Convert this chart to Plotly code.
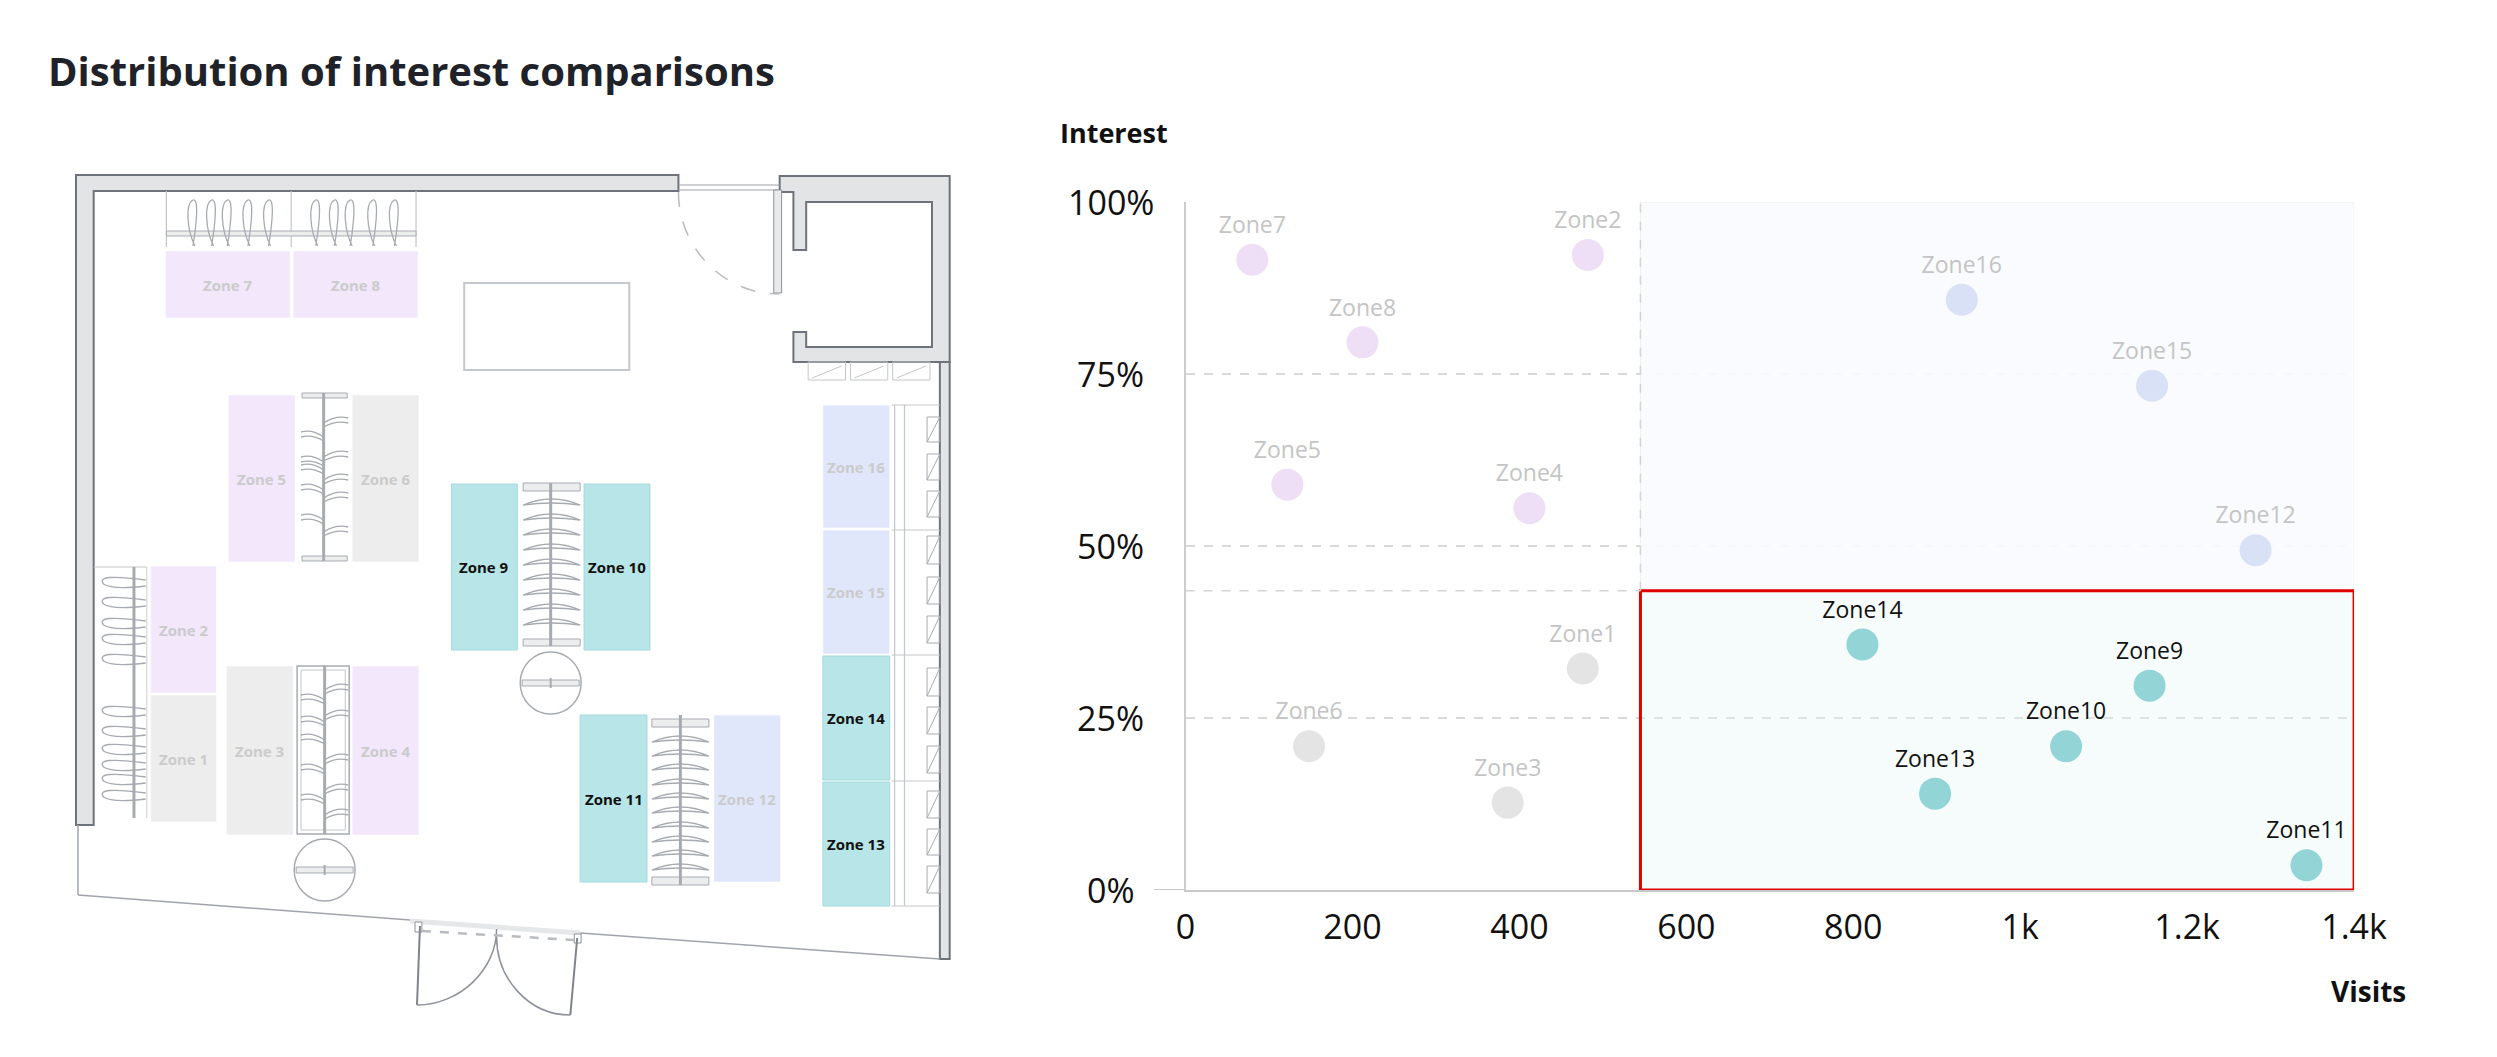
import plotly.graph_objects as go

W, H = 2497, 1057
PAD = 8  # the page body adds an 8px margin, so the layout is pulled back by that much

# ---- chart data ----
ZONES = ["Zone1", "Zone2", "Zone3", "Zone4", "Zone5", "Zone6", "Zone7", "Zone8",
         "Zone9", "Zone10", "Zone11", "Zone12", "Zone13", "Zone14", "Zone15", "Zone16"]
VISITS = [476, 482, 386, 412, 122, 148, 80, 212,
          1155, 1055, 1343, 1282, 898, 811, 1158, 930]
INTEREST = [0.322, 0.923, 0.127, 0.555, 0.589, 0.209, 0.916, 0.796,
            0.297, 0.209, 0.036, 0.494, 0.140, 0.357, 0.733, 0.858]

VISIT_SPLIT = 545
INTEREST_SPLIT = 0.435

X_TICKS = [0, 200, 400, 600, 800, 1000, 1200, 1400]
X_TICK_LABELS = ["0", "200", "400", "600", "800", "1k", "1.2k", "1.4k"]
Y_TICKS = [0, 0.25, 0.5, 0.75, 1.0]
Y_TICK_LABELS = ["0%", "25%", "50%", "75%", "100%"]

FONT = "Open Sans"

# quadrant -> colours (marker, label, floor fill)
MARKER_COL = {"niche": "#efdff6", "quiet": "#e4e4e4", "busy": "#d9e1f7", "focus": "#93d5d7"}
LABEL_COL = {"niche": "#c4c4c4", "quiet": "#c4c4c4", "busy": "#c4c4c4", "focus": "#111111"}
FLOOR_COL = {"niche": "#f2e7fb", "quiet": "#ededed", "busy": "#e1e7fb", "focus": "#b8e5e7"}


def quadrant(v, i):
    if v >= VISIT_SPLIT:
        return "focus" if i < INTEREST_SPLIT else "busy"
    return "niche" if i >= INTEREST_SPLIT else "quiet"


quad = {z: quadrant(v, i) for z, v, i in zip(ZONES, VISITS, INTEREST)}


def px(x):
    return (x - PAD) / W


def py(y):
    return 1 - (y - PAD) / H


# ---- floor plan illustration (pixel coordinates of the left panel) ----
WALL_FILL = "#e3e4e6"
WALL_LINE = "#6d727b"
FURN = "#a7abb1"

ZONE_BOXES = {
    "Zone7": (158, 251, 285, 318), "Zone8": (288, 251, 415, 318),
    "Zone5": (222, 395, 290, 562), "Zone6": (348, 395, 416, 562),
    "Zone2": (143, 566, 210, 693), "Zone1": (143, 695, 210, 822),
    "Zone3": (220, 666, 288, 835), "Zone4": (348, 666, 416, 835),
    "Zone9": (449, 484, 516, 650), "Zone10": (584, 484, 651, 650),
    "Zone11": (580, 715, 648, 882), "Zone12": (716, 715, 784, 882),
    "Zone16": (827, 405, 895, 528), "Zone15": (827, 530, 895, 654),
    "Zone14": (827, 656, 895, 780), "Zone13": (827, 782, 895, 906),
}

shapes = []
annotations = []


def seg(x0, y0, x1, y1, color=FURN, width=1.5, dash=None):
    line = dict(color=color, width=width)
    if dash:
        line["dash"] = dash
    shapes.append(dict(type="line", xref="x2", yref="y2", x0=x0, y0=y0, x1=x1, y1=y1, line=line))


def box(x0, y0, x1, y1, fill="rgba(0,0,0,0)", color="rgba(0,0,0,0)", width=1):
    shapes.append(dict(type="rect", xref="x2", yref="y2", x0=x0, y0=y0, x1=x1, y1=y1,
                       fillcolor=fill, line=dict(color=color, width=width)))


def path(d, color=FURN, width=1.5, fill="rgba(0,0,0,0)", dash=None):
    line = dict(color=color, width=width)
    if dash:
        line["dash"] = dash
    shapes.append(dict(type="path", xref="x2", yref="y2", path=d, fillcolor=fill, line=line))


def circle(cx, cy, r, color=FURN):
    shapes.append(dict(type="circle", xref="x2", yref="y2", x0=cx - r, y0=cy - r,
                       x1=cx + r, y1=cy + r, line=dict(color=color, width=1.5)))
    box(cx - r + 2, cy - 3, cx + r - 2, cy + 3, "#eceded", FURN, 1)
    seg(cx, cy - 5, cx, cy + 5, FURN, 2)


def loop(xa, xb, y, depth=10):
    xm = (xa + xb) / 2
    path(f"M {xa},{y} Q {xm},{y - depth} {xb},{y} Q {xm},{y - depth / 3} {xa},{y} Z", FURN, 1.3)


def side_hanger(x_from, x_to, y):
    xm = (x_from + x_to) / 2
    path(f"M {x_from},{y} Q {xm},{y - 8} {x_to},{y - 5} M {x_from},{y + 4} Q {xm},{y - 3} {x_to},{y}",
         FURN, 1.3)


# walls
path("M 67,175 L 680,175 L 680,191 L 85,191 L 85,825 L 67,825 Z", WALL_LINE, 2, WALL_FILL)
path("M 783,176 L 956,176 L 956,362 L 797,362 L 797,332 L 810,332 L 810,347 L 938,347 "
     "L 938,202 L 810,202 L 810,250 L 797,250 L 797,192 L 783,192 Z", WALL_LINE, 2, WALL_FILL)
path("M 946,362 L 956,362 L 956,959 L 946,959 Z", WALL_LINE, 2, WALL_FILL)
seg(680, 185, 783, 185, "#9ea2a8", 1.2)
seg(680, 190, 783, 190, "#9ea2a8", 1.2)
box(777, 190, 785, 293, "#e9eaec", "#8d9199", 1)
path("M 680,192 C 680,248 726,294 782,294", "#b8bbc0", 1.5, dash="longdash")
seg(69, 825, 69, 895, "#a0a4aa", 1.5)
seg(69, 895, 407, 920, "#a0a4aa", 1.5)
seg(580, 933, 946, 959, "#a0a4aa", 1.5)

# entrance doors
seg(407, 921, 580, 933, "#e6e7e9", 5)
box(412, 922, 419, 932, "white", "#8d9199", 1)
box(574, 934, 581, 943, "white", "#8d9199", 1)
seg(417, 926, 414, 1005, "#7f848c", 2)
seg(577, 938, 570, 1015, "#7f848c", 2)
path("M 414,1005 C 457,1005 495,970 495,929", "#8d9199", 1.5)
path("M 570,1015 C 527,1015 495,978 495,937", "#8d9199", 1.5)
seg(419, 931, 574, 940, "#b8bbc0", 2.5, "dash")

# table
box(462, 283, 630, 370, "white", "#c4c7cc", 2)

# wall racks at the top
for xv in [159, 286, 413]:
    seg(xv, 191, xv, 247, "#c3c6ca", 1.2)
box(159, 231, 413, 236, "#eceded", FURN, 1)
for xh in [186, 205, 221, 242, 263, 311, 330, 346, 369, 391]:
    path(f"M {xh + 2},246 C {xh - 6},230 {xh - 8},204 {xh},200 C {xh + 6},198 {xh + 4},222 {xh},246",
         FURN, 1.3)

# left wall rack
seg(85, 567, 139, 567, "#c3c6ca", 1.2)
seg(139, 567, 139, 818, "#d5d7da", 1.2)
seg(126, 567, 126, 818, FURN, 3)
for yh in [583, 603, 624, 640, 660, 712, 732, 750, 766, 780, 796]:
    path(f"M 138,{yh - 3} Q 86,{yh - 10} 95,{yh + 1} Q 104,{yh + 7} 138,{yh + 3}", FURN, 1.3)

# rack between zone 5 / 6
box(297, 393, 343, 398, "#eceded", FURN, 1)
box(297, 556, 343, 561, "#eceded", FURN, 1)
seg(319, 393, 319, 561, FURN, 3)
for yh in [423, 457, 480, 498, 532]:
    side_hanger(319, 344, yh)
for yh in [437, 462, 470, 490, 520]:
    side_hanger(319, 296, yh)

# rack between zone 3 / 4
box(292, 666, 345, 834, "rgba(0,0,0,0)", FURN, 1.5)
box(296, 670, 341, 830, "rgba(0,0,0,0)", "#c3c6ca", 1)
seg(320, 666, 320, 834, FURN, 3)
for yh in [690, 716, 760, 790, 815]:
    side_hanger(320, 344, yh)
for yh in [700, 722, 740, 770, 800]:
    side_hanger(320, 296, yh)
circle(320, 870, 31)

# rack between zone 9 / 10
box(522, 483, 580, 491, "#eceded", FURN, 1)
box(522, 639, 580, 646, "#eceded", FURN, 1)
seg(550, 483, 550, 646, FURN, 3)
for yh in [505, 520, 535, 550, 565, 580, 595, 610, 625]:
    loop(522, 580, yh, 12)
circle(550, 683, 31)

# rack between zone 11 / 12
box(653, 719, 711, 727, "#eceded", FURN, 1)
box(653, 877, 711, 885, "#eceded", FURN, 1)
seg(682, 715, 682, 885, FURN, 3)
for yh in [742, 756, 770, 785, 799, 813, 828, 842, 856, 870]:
    loop(653, 711, yh, 12)

# shelving along the right wall
seg(900, 405, 900, 906, "#c3c6ca", 1.2)
seg(910, 405, 910, 906, "#c3c6ca", 1.2)
for yl in [405, 530, 655, 781, 906]:
    seg(897, yl, 946, yl, "#c3c6ca", 1.2)
for y0, y1 in [(417, 442), (454, 480), (491, 517), (536, 564), (577, 604), (616, 643),
               (668, 696), (707, 734), (746, 773), (791, 818), (829, 855), (866, 893)]:
    box(933, y0, 946, y1, "rgba(0,0,0,0)", FURN, 1)
    seg(933, y1, 946, y0, FURN, 1)
for x0, x1 in [(812, 850), (855, 893), (898, 936)]:
    box(x0, 362, x1, 380, "rgba(0,0,0,0)", "#c3c6ca", 1)
    seg(x0 + 4, 378, x1 - 4, 366, "#c3c6ca", 1)

# zones on the floor plan
for z, (x0, y0, x1, y1) in ZONE_BOXES.items():
    q = quad[z]
    edge = "#a3dadb" if q == "focus" else "rgba(255,255,255,0.6)"
    box(x0, y0, x1, y1, FLOOR_COL[q], edge, 1)
    annotations.append(dict(
        xref="x2", yref="y2", x=(x0 + x1) / 2, y=(y0 + y1) / 2, showarrow=False,
        text="Zone " + z[4:],
        font=dict(family=FONT, size=15, weight=700,
                  color="#111111" if q == "focus" else "#cbcbcb")))

# ---- scatter chart decorations ----
X_DOM = [px(1196), px(2385)]
Y_DOM = [py(890), py(202)]

shapes += [
    dict(type="rect", xref="x", yref="y", layer="between",
         x0=VISIT_SPLIT, x1=X_TICKS[-1], y0=INTEREST_SPLIT, y1=Y_TICKS[-1],
         fillcolor="rgba(250,251,254,0.9)", line=dict(color="#efefef", width=1)),
    dict(type="rect", xref="x", yref="y", layer="between",
         x0=VISIT_SPLIT, x1=X_TICKS[-1], y0=Y_TICKS[0], y1=INTEREST_SPLIT,
         fillcolor="rgba(228,246,246,0.35)", line=dict(color="#e00000", width=3)),
    dict(type="line", xref="x", yref="y", layer="between",
         x0=VISIT_SPLIT, x1=VISIT_SPLIT, y0=INTEREST_SPLIT, y1=Y_TICKS[-1],
         line=dict(color="#d4d4d4", width=1.5, dash="dash")),
    dict(type="line", xref="x", yref="y", layer="between",
         x0=X_TICKS[0], x1=VISIT_SPLIT, y0=INTEREST_SPLIT, y1=INTEREST_SPLIT,
         line=dict(color="#d4d4d4", width=1.5, dash="dash")),
    dict(type="line", xref="paper", yref="y",
         x0=px(1164), x1=X_DOM[0], y0=0, y1=0,
         line=dict(color="#c8c8c8", width=2)),
]

# y tick labels are centred in their column, so they are placed as annotations
for val, lab in zip(Y_TICKS, Y_TICK_LABELS):
    annotations.append(dict(
        xref="paper", yref="y", x=px(1120), y=val, xanchor="center", yanchor="middle",
        showarrow=False, text=lab, font=dict(family=FONT, size=34, color="#111111")))

annotations += [
    dict(xref="paper", yref="paper", x=px(36), y=py(70), xanchor="left", yanchor="middle",
         showarrow=False, text="Distribution of interest comparisons",
         font=dict(family=FONT, size=40, weight=700, color="#1f2329")),
    dict(xref="paper", yref="paper", x=px(1066), y=py(132), xanchor="left", yanchor="middle",
         showarrow=False, text="Interest",
         font=dict(family=FONT, size=27, weight=700, color="#111111")),
    dict(xref="paper", yref="paper", x=px(2440), y=py(991), xanchor="right", yanchor="middle",
         showarrow=False, text="Visits",
         font=dict(family=FONT, size=28, weight=700, color="#111111")),
]

fig = go.Figure()
fig.add_trace(go.Scatter(
    x=VISITS, y=INTEREST, text=ZONES, mode="markers+text",
    textposition="top center", cliponaxis=False, hoverinfo="skip",
    marker=dict(size=32, color=[MARKER_COL[quad[z]] for z in ZONES], line=dict(width=0)),
    textfont=dict(family=FONT, size=23, color=[LABEL_COL[quad[z]] for z in ZONES]),
    showlegend=False,
))
fig.add_trace(go.Scatter(x=[], y=[], xaxis="x2", yaxis="y2", showlegend=False, hoverinfo="skip"))

fig.update_layout(
    width=W, height=H, margin=dict(l=0, r=0, t=0, b=0),
    paper_bgcolor="white", plot_bgcolor="white",
    font=dict(family=FONT, color="#111111"),
    shapes=shapes, annotations=annotations,
    xaxis=dict(domain=X_DOM, range=[X_TICKS[0], X_TICKS[-1]], anchor="y",
               tickvals=X_TICKS, ticktext=X_TICK_LABELS, showgrid=False, zeroline=False,
               showline=True, linecolor="#c8c8c8", linewidth=2, ticks="",
               ticklabelstandoff=6, tickfont=dict(family=FONT, size=34, color="#111111"),
               fixedrange=True),
    yaxis=dict(domain=Y_DOM, range=[Y_TICKS[0], Y_TICKS[-1]], anchor="x",
               tickvals=Y_TICKS, showticklabels=False, showgrid=True,
               gridcolor="#d9d9d9", gridwidth=1.5, griddash="dash", zeroline=False,
               showline=True, linecolor="#cccccc", linewidth=2, ticks="",
               fixedrange=True),
    # floor plan axes: data units are page pixels (shifted back by the body margin)
    xaxis2=dict(domain=[0, 0.44], range=[PAD, PAD + 0.44 * W], anchor="y2", visible=False,
                fixedrange=True),
    yaxis2=dict(domain=[0, 1], range=[PAD + H, PAD], anchor="x2", visible=False,
                fixedrange=True),
)

fig.write_html("out.html")
